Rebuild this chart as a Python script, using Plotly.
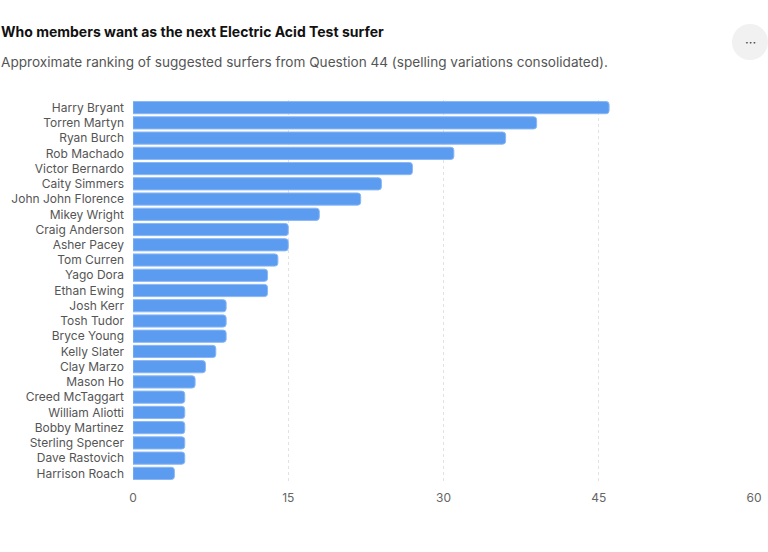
import plotly.graph_objects as go

surfers = [
    "Harry Bryant", "Torren Martyn", "Ryan Burch", "Rob Machado", "Victor Bernardo",
    "Caity Simmers", "John John Florence", "Mikey Wright", "Craig Anderson", "Asher Pacey",
    "Tom Curren", "Yago Dora", "Ethan Ewing", "Josh Kerr", "Tosh Tudor", "Bryce Young",
    "Kelly Slater", "Clay Marzo", "Mason Ho", "Creed McTaggart", "William Aliotti",
    "Bobby Martinez", "Sterling Spencer", "Dave Rastovich", "Harrison Roach",
]
mentions = [46, 39, 36, 31, 27, 24, 22, 18, 15, 15, 14, 13, 13, 9, 9, 9, 8, 7, 6, 5, 5, 5, 5, 5, 4]
x_ticks = [0, 15, 30, 45, 60]

title_text = "Who members want as the next Electric Acid Test surfer"
subtitle_text = "Approximate ranking of suggested surfers from Question 44 (spelling variations consolidated)."

W, H = 768, 552
ML, MR, MT, MB = 133, 14, 100, 71

fig = go.Figure(
    go.Bar(
        x=mentions,
        y=surfers,
        orientation="h",
        marker=dict(color="#5b9bf0", line=dict(color="#8ab8f5", width=1), cornerradius=3),
        hoverinfo="x+y",
    )
)

fig.update_layout(
    width=W,
    height=H,
    margin=dict(l=ML, r=MR, t=MT, b=MB, autoexpand=False),
    paper_bgcolor="white",
    plot_bgcolor="white",
    font=dict(family="Inter, Roboto, sans-serif", size=12, color="#555"),
    bargap=0.2,
    showlegend=False,
    xaxis=dict(
        range=[0, 60],
        tickvals=x_ticks,
        showgrid=True,
        gridcolor="#e2e2e2",
        griddash="dot",
        gridwidth=1,
        zeroline=True,
        zerolinecolor="rgba(0,0,0,0)",
        showline=False,
        ticks="",
        tickfont=dict(size=12, color="#666"),
        ticklabelstandoff=8,
        automargin=False,
        fixedrange=True,
    ),
    yaxis=dict(
        autorange="reversed",
        showgrid=False,
        showline=False,
        ticks="",
        tickfont=dict(size=12, color="#555"),
        ticklabelstandoff=8,
        automargin=False,
        fixedrange=True,
    ),
)

plot_h = H - MT - MB
plot_w = W - ML - MR

def px_x(px):
    return (px - ML) / plot_w

def px_y(py):
    return (H - MB - py) / plot_h

fig.update_layout(annotations=[
    dict(text="<b>" + title_text + "</b>", x=px_x(-1), y=px_y(32), xref="paper", yref="paper",
         xanchor="left", yanchor="middle", showarrow=False,
         font=dict(size=14, color="#111", family="Inter, Roboto, sans-serif")),
    dict(text=subtitle_text, x=px_x(-1), y=px_y(62), xref="paper", yref="paper",
         xanchor="left", yanchor="middle", showarrow=False,
         font=dict(size=13.6, color="#555", family="Inter, Roboto, sans-serif")),
    dict(text="···", x=px_x(750), y=px_y(42), xref="paper", yref="paper",
         xanchor="center", yanchor="middle", showarrow=False,
         font=dict(size=13, color="#444")),
])
fig.update_layout(shapes=[
    dict(type="circle", xref="paper", yref="paper",
         x0=px_x(732), x1=px_x(768), y0=px_y(60), y1=px_y(24),
         fillcolor="#f1f1f1", line=dict(width=0), layer="below"),
])

fig.write_html(
    "out.html",
    config={"displayModeBar": False},
    post_script="document.body.style.margin='0';document.body.style.padding='0';",
)
